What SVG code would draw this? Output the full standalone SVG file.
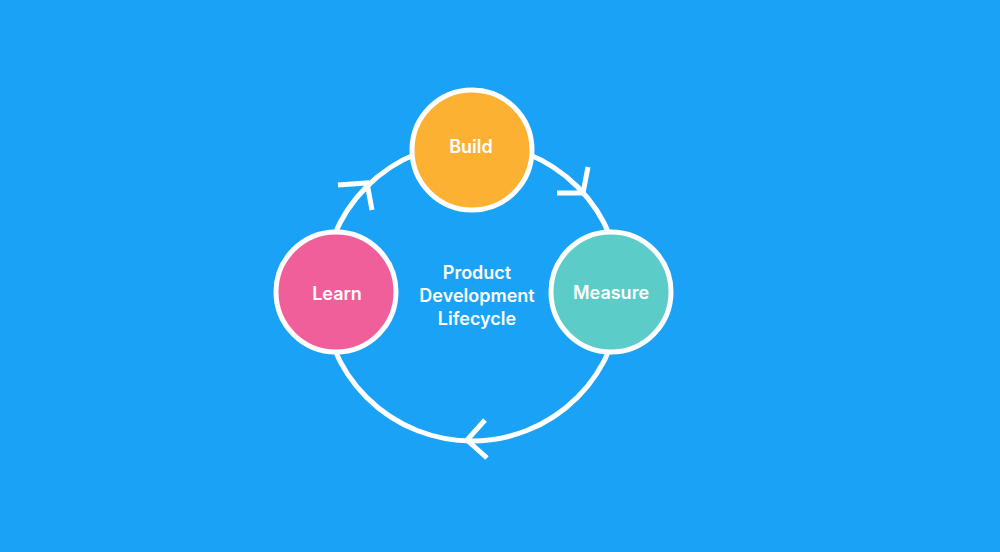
<svg xmlns="http://www.w3.org/2000/svg" width="1000" height="552" viewBox="0 0 1000 552">
<style>
.node{stroke:#fff;stroke-width:5}
.lbl{font-family:Inter,"Liberation Sans",sans-serif;font-weight:600;font-size:18px;fill:#fff;text-anchor:middle}
.ring{fill:none;stroke:#fff;stroke-width:5}
.arr{fill:none;stroke:#fff;stroke-width:5;stroke-linecap:butt;stroke-linejoin:miter}
</style>
<rect width="1000" height="552" fill="#1AA3F6"/>
<g id="connectors">
<circle class="ring" cx="472" cy="292" r="149"/>
<polyline class="arr" points="338,185 367,183 372,210"/>
<polyline class="arr" points="557,193 583,193 588,167"/>
<polyline class="arr" points="485,420 467,440 487,458"/>
</g>
<g id="build">
<circle class="node" cx="472" cy="150" r="60" fill="#FDB133"/>
<text class="lbl" x="471" y="148" dominant-baseline="middle">Build</text>
</g>
<g id="learn">
<circle class="node" cx="336" cy="292" r="60" fill="#F05F9A"/>
<text class="lbl" x="337" y="295" dominant-baseline="middle">Learn</text>
</g>
<g id="measure">
<circle class="node" cx="611" cy="292" r="60" fill="#5CCCC8"/>
<text class="lbl" x="611" y="294" dominant-baseline="middle">Measure</text>
</g>
<g id="center-label">
<text class="lbl" x="477" y="279">Product</text>
<text class="lbl" x="477" y="302">Development</text>
<text class="lbl" x="477" y="325">Lifecycle</text>
</g>
</svg>
